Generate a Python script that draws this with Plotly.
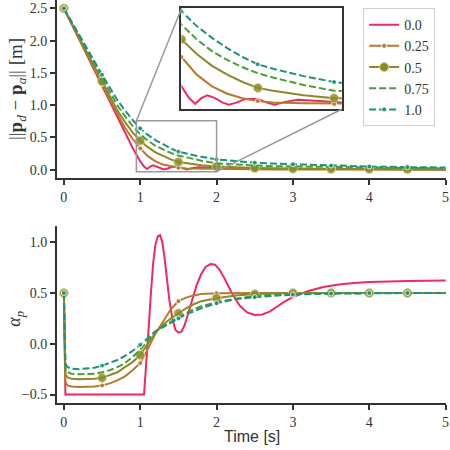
import plotly.graph_objects as go

# --- donnees ---
labels = ["0.0", "0.25", "0.5", "0.75", "1.0"]
couleurs = ["#f2295f", "#b8782f", "#8b8a27", "#4a9e3a", "#1f927a"]

# distance ||p_d - p_a|| (haut)
t_haut = [0, 0.1, 0.2, 0.3, 0.4, 0.5, 0.6, 0.7, 0.8, 0.9, 1.0, 1.1, 1.2, 1.3, 1.4,
          1.5, 1.6, 1.8, 2.0, 2.25, 2.5, 2.75, 3.0, 3.5, 4.0, 4.5, 5.0]
d_025 = [2.5, 2.27, 2.04, 1.80, 1.57, 1.33, 1.09, 0.86, 0.65, 0.48, 0.33, 0.21, 0.13, 0.08,
         0.05, 0.03, 0.02, 0.015, 0.01, 0.008, 0.006, 0.005, 0.005, 0.004, 0.003, 0.003, 0.003]
d_05 = [2.5, 2.28, 2.06, 1.83, 1.60, 1.37, 1.14, 0.92, 0.74, 0.58, 0.45, 0.35, 0.27, 0.21,
        0.16, 0.12, 0.10, 0.07, 0.05, 0.035, 0.025, 0.02, 0.015, 0.01, 0.01, 0.006, 0.005]
d_075 = [2.5, 2.29, 2.08, 1.86, 1.64, 1.42, 1.20, 1.00, 0.83, 0.68, 0.55, 0.45, 0.37, 0.31,
         0.26, 0.22, 0.19, 0.14, 0.10, 0.08, 0.065, 0.055, 0.05, 0.04, 0.03, 0.025, 0.02]
d_10 = [2.5, 2.30, 2.09, 1.89, 1.68, 1.47, 1.27, 1.08, 0.92, 0.77, 0.64, 0.54, 0.46, 0.39,
        0.33, 0.28, 0.25, 0.20, 0.16, 0.13, 0.11, 0.095, 0.085, 0.065, 0.05, 0.04, 0.035]
t_haut_0 = [0, 0.25, 0.5, 0.75, 0.9, 1.0, 1.05, 1.09, 1.13, 1.17, 1.22, 1.27, 1.31, 1.36,
            1.42, 1.5, 1.56, 1.61, 1.68, 1.76, 1.85, 1.95, 2.05, 2.2, 2.5, 3.0, 3.5, 4.0, 5.0]
d_00 = [2.5, 1.91, 1.30, 0.70, 0.34, 0.13, 0.05, 0.012, 0.05, 0.07, 0.05, 0.02, 0.005, 0.02,
        0.045, 0.045, 0.02, 0.006, 0.025, 0.04, 0.035, 0.025, 0.02, 0.024, 0.02, 0.01, 0.01,
        0.006, 0.005]

# alpha_p (bas)
t_bas = [0, 0.02, 0.05, 0.1, 0.2, 0.3, 0.4, 0.5, 0.6, 0.7, 0.8, 0.9, 1.0, 1.1, 1.2, 1.3,
         1.4, 1.5, 1.6, 1.7, 1.8, 2.0, 2.25, 2.5, 2.75, 3.0, 3.5, 4.0, 4.5, 5.0]
a_025 = [0.5, -0.38, -0.41, -0.42, -0.425, -0.425, -0.42, -0.41, -0.39, -0.36, -0.32, -0.26,
         -0.19, -0.05, 0.10, 0.22, 0.34, 0.42, 0.455, 0.477, 0.49, 0.498, 0.502, 0.501, 0.5,
         0.5, 0.5, 0.5, 0.5, 0.5]
a_05 = [0.5, -0.30, -0.33, -0.345, -0.35, -0.35, -0.345, -0.335, -0.31, -0.28, -0.23, -0.18,
        -0.11, 0.0, 0.11, 0.19, 0.25, 0.30, 0.35, 0.39, 0.42, 0.45, 0.475, 0.49, 0.495, 0.5,
        0.5, 0.5, 0.5, 0.5]
a_075 = [0.5, -0.25, -0.28, -0.295, -0.30, -0.30, -0.295, -0.28, -0.26, -0.23, -0.19, -0.13,
         -0.06, 0.03, 0.12, 0.175, 0.22, 0.26, 0.30, 0.34, 0.37, 0.41, 0.445, 0.47, 0.485,
         0.49, 0.497, 0.5, 0.5, 0.5]
a_10 = [0.5, -0.20, -0.23, -0.245, -0.25, -0.245, -0.235, -0.215, -0.19, -0.16, -0.12, -0.07,
        -0.01, 0.06, 0.125, 0.165, 0.21, 0.25, 0.29, 0.32, 0.35, 0.40, 0.44, 0.46, 0.475,
        0.485, 0.495, 0.5, 0.5, 0.5]
t_bas_0 = [0, 0.02, 1.05, 1.08, 1.11, 1.14, 1.17, 1.2, 1.23, 1.26, 1.29, 1.32, 1.35, 1.38,
           1.42, 1.46, 1.5, 1.54, 1.58, 1.63, 1.68, 1.74, 1.8, 1.86, 1.92, 1.98, 2.04, 2.1,
           2.2, 2.3, 2.4, 2.5, 2.6, 2.7, 2.8, 2.9, 3.0, 3.2, 3.4, 3.6, 3.8, 4.0, 4.5, 5.0]
a_00 = [0.5, -0.5, -0.5, -0.2, 0.15, 0.5, 0.8, 0.98, 1.06, 1.07, 1.0, 0.84, 0.64, 0.44,
        0.25, 0.14, 0.11, 0.12, 0.18, 0.30, 0.44, 0.58, 0.69, 0.76, 0.785, 0.78, 0.73, 0.65,
        0.50, 0.38, 0.31, 0.285, 0.29, 0.32, 0.37, 0.42, 0.46, 0.52, 0.56, 0.585, 0.60, 0.61,
        0.62, 0.625]

# zone zoomee (rectangle) et limites de l'encart
zoom_x = [0.95, 2.0]
zoom_y = [-0.03, 0.76]
encart_x = [1.0, 2.05]
encart_y = [-0.025, 0.66]

series_haut = [(t_haut_0, d_00), (t_haut, d_025), (t_haut, d_05), (t_haut, d_075), (t_haut, d_10)]
series_bas = [(t_bas_0, a_00), (t_bas, a_025), (t_bas, a_05), (t_bas, a_075), (t_bas, a_10)]

# style de chaque courbe : (tirets, taille marqueur ou None)
styles = [("solid", None), ("solid", 5), ("solid", 9), ("7px,3px", None), ("7px,3px", 5)]

SERIF = "Liberation Serif, DejaVu Serif, serif"

fig = go.Figure()

def trace_courbe(t, v, i, xa, ya):
    dash, msize = styles[i]
    fig.add_trace(go.Scatter(x=t, y=v, mode="lines", xaxis=xa, yaxis=ya, showlegend=False,
                             line=dict(color=couleurs[i], width=2, dash=dash)))
    if msize:
        # un marqueur toutes les 0.5 s
        tm = [a for a in t if abs(a * 2 - round(a * 2)) < 1e-9 and a < 4.9]
        vm = [v[t.index(a)] for a in tm]
        fig.add_trace(go.Scatter(x=tm, y=vm, mode="markers", xaxis=xa, yaxis=ya, showlegend=False,
                                 marker=dict(color=couleurs[i], size=msize, opacity=0.85,
                                             line=dict(color="#d8d48a" if msize > 6 else "white", width=1))))

for i in range(5):
    trace_courbe(*series_haut[i], i, "x", "y")
    trace_courbe(*series_bas[i], i, "x2", "y2")
    trace_courbe(*series_haut[i], i, "x3", "y3")
    # entree de legende
    dash, msize = styles[i]
    fig.add_trace(go.Scatter(x=[None], y=[None], mode="lines+markers" if msize else "lines",
                             name=labels[i], line=dict(color=couleurs[i], width=2, dash=dash),
                             marker=dict(color=couleurs[i], size=msize or 1,
                                         line=dict(color="#d8d48a" if (msize or 0) > 6 else "white", width=1))))

axe = dict(showgrid=False, zeroline=False, showline=True, linecolor="#333", linewidth=2,
           ticks="outside", ticklen=5, tickwidth=1.5, tickcolor="#333", automargin=False,
           ticklabeloverflow="allow", tickfont=dict(family=SERIF, size=14, color="#333"))
encart = dict(showline=True, mirror=True, linecolor="#333", linewidth=2, showticklabels=False,
              ticks="", showgrid=False, zeroline=False, automargin=False)

dom_haut = [0.558, 1.0]
dom_bas = [0.0, 0.439]
dom_enc_x = [0.320, 0.732]
dom_enc_y = [0.729, 0.979]
xr = [-0.09, 5.005]
yr_haut = [-0.13, 2.63]

fig.update_layout(
    width=450, height=450,
    margin=dict(l=57, r=4, t=0, b=47, autoexpand=False),
    plot_bgcolor="white", paper_bgcolor="white",
    xaxis=dict(axe, range=xr, anchor="y", domain=[0, 1], tickvals=[0, 1, 2, 3, 4, 5]),
    yaxis=dict(axe, range=yr_haut, domain=dom_haut, anchor="x", tickvals=[0, 0.5, 1, 1.5, 2, 2.5],
               tickformat=".1f"),
    xaxis2=dict(axe, range=xr, anchor="y2", domain=[0, 1], tickvals=[0, 1, 2, 3, 4, 5]),
    yaxis2=dict(axe, range=[-0.583, 1.16], domain=dom_bas, anchor="x2",
                tickvals=[-0.5, 0, 0.5, 1.0], tickformat=".1f"),
    xaxis3=dict(encart, range=encart_x, domain=dom_enc_x, anchor="y3"),
    yaxis3=dict(encart, range=encart_y, domain=dom_enc_y, anchor="x3"),
    legend=dict(x=0.787, y=0.98, xanchor="left", yanchor="top", bgcolor="white",
                bordercolor="#d0d0d0", borderwidth=1, itemwidth=30,
                font=dict(family=SERIF, size=14, color="#333")),
)

# rectangle de la zone agrandie
fig.add_shape(type="rect", xref="x", yref="y", x0=zoom_x[0], x1=zoom_x[1], y0=zoom_y[0],
              y1=zoom_y[1], line=dict(color="#999", width=1.5))

def vers_papier(v, r, d):
    return d[0] + (v - r[0]) / (r[1] - r[0]) * (d[1] - d[0])

# traits reliant le rectangle a l'encart
fig.add_shape(type="line", xref="paper", yref="paper",
              x0=vers_papier(zoom_x[0], xr, [0, 1]), y0=vers_papier(zoom_y[1], yr_haut, dom_haut),
              x1=dom_enc_x[0], y1=dom_enc_y[1], line=dict(color="#999", width=1.5))
fig.add_shape(type="line", xref="paper", yref="paper",
              x0=vers_papier(zoom_x[1], xr, [0, 1]), y0=vers_papier(zoom_y[0], yr_haut, dom_haut),
              x1=dom_enc_x[1], y1=dom_enc_y[0], line=dict(color="#999", width=1.5))

# titres des axes
fig.add_annotation(text="||<b>p</b><sub><i>d</i></sub> − <b>p</b><sub><i>a</i></sub>|| [m]",
                   xref="paper", yref="paper", x=-0.103, y=0.779, xanchor="center", yanchor="middle",
                   textangle=-90, showarrow=False, font=dict(family=SERIF, size=19, color="#333"))
fig.add_annotation(text="<i>α<sub>p</sub></i>", xref="paper", yref="paper", x=-0.107, y=0.21,
                   xanchor="center", yanchor="middle", textangle=-90, showarrow=False,
                   font=dict(family=SERIF, size=18, color="#333"))
fig.add_annotation(text="Time [s]", xref="paper", yref="paper", x=0.5, y=-0.084,
                   xanchor="center", yanchor="middle", showarrow=False,
                   font=dict(family="Liberation Sans, DejaVu Sans, sans-serif", size=16, color="#333"))

# la page HTML ajoute une marge de 8 px autour du graphique : on la retire
fig.write_html("out.html", config={"displayModeBar": False},
               post_script="document.body.style.margin = '0';")
